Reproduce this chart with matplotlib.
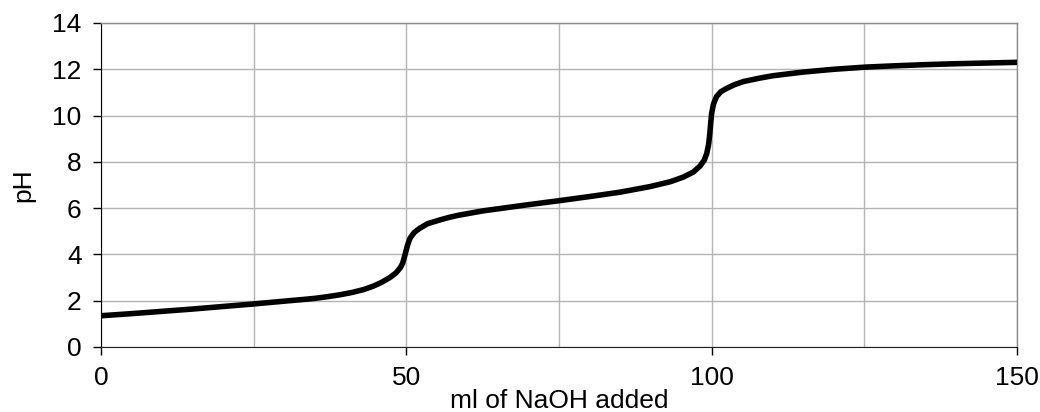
import matplotlib
matplotlib.use('Agg')
from matplotlib import pyplot as plt
from matplotlib.ticker import MultipleLocator

# titration curve
ml_naoh = [0, 5, 10, 15, 20, 25, 30, 33, 35, 37, 39, 41, 43, 44.6, 46, 47.3, 48.3,
           49.0, 49.4, 49.8, 50.2, 50.6, 51.3, 52.2, 53.5, 55.5, 57, 58.5, 60.4, 62.5,
           65, 70, 75, 80, 85, 89.9, 93.2, 95.35, 97, 98.1, 98.8, 99.2, 99.5, 99.7,
           99.85, 100.0, 100.3, 100.8, 101.5, 102.5, 103.7, 105.2, 107.9, 110, 115,
           120, 125, 130, 135, 140, 145, 150]
ph = [1.35, 1.44, 1.54, 1.64, 1.75, 1.86, 1.98, 2.05, 2.10, 2.17, 2.25, 2.35, 2.48,
      2.63, 2.80, 3.00, 3.20, 3.42, 3.62, 4.00, 4.40, 4.70, 4.95, 5.13, 5.33, 5.49,
      5.60, 5.69, 5.78, 5.88, 5.97, 6.15, 6.32, 6.50, 6.69, 6.93, 7.14, 7.34, 7.56,
      7.82, 8.08, 8.37, 8.75, 9.23, 9.70, 10.10, 10.50, 10.82, 11.03, 11.18, 11.33,
      11.47, 11.62, 11.72, 11.88, 12.00, 12.09, 12.15, 12.20, 12.24, 12.27, 12.30]

x_major = [0, 50, 100, 150]

plt.rcParams['font.family'] = ['Liberation Sans', 'DejaVu Sans']

fig = plt.figure(figsize=(10.4, 4.12), dpi=100)
ax = fig.add_axes([0.0971, 0.1578, 0.8808, 0.7864])

ax.plot(ml_naoh, ph, color='black', linewidth=4.0, solid_joinstyle='round',
        solid_capstyle='butt', zorder=3)

ax.set_xlim(0, 150)
ax.set_ylim(0, 14)
ax.set_xticks(x_major)
ax.xaxis.set_minor_locator(MultipleLocator(25))
ax.yaxis.set_major_locator(MultipleLocator(2))

ax.grid(which='both', color='#b4b4b4', linewidth=1.0)
ax.tick_params(which='minor', length=0)
ax.tick_params(which='major', length=6, width=1, pad=8, labelsize=19, direction='out')

for side in ['top', 'right']:
    ax.spines[side].set_color('#8c8c8c')
    ax.spines[side].set_linewidth(1.0)
ax.spines['left'].set_color('black')
ax.spines['bottom'].set_color('#202020')

ax.set_xlabel('ml of NaOH added', fontsize=19, labelpad=-1)
ax.set_ylabel('pH', fontsize=19, labelpad=12)

fig.savefig('out.png', dpi=100)
